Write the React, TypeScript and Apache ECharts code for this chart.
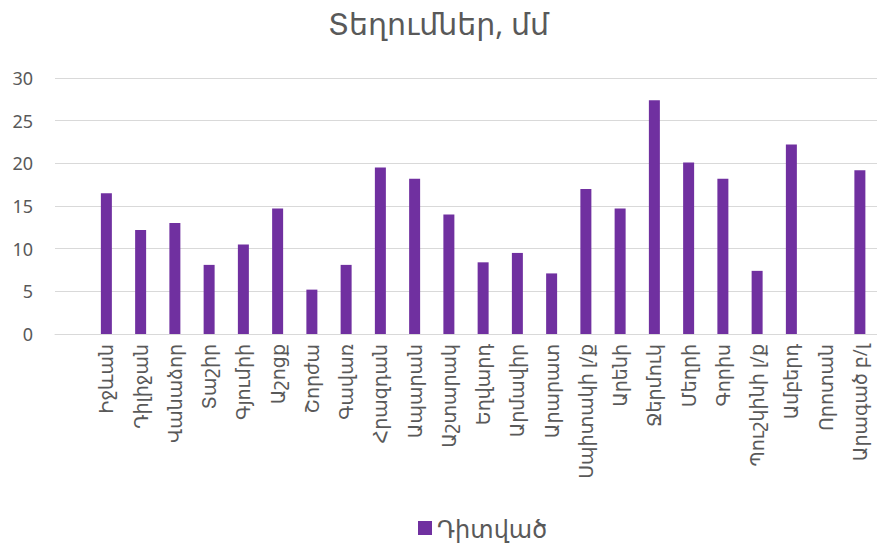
import React, { useEffect, useRef } from "react";
import * as echarts from "echarts";

const title = "Տեղումներ, մմ";
const seriesName = "Դիտված";
const categories = [
  "",
  "Իջևան",
  "Դիլիջան",
  "Վանաձոր",
  "Տաշիր",
  "Գյումրի",
  "Աշոցք",
  "Շորժա",
  "Գավառ",
  "Հրազդան",
  "Ապարան",
  "Աշտարակ",
  "Եղվարդ",
  "Արմավիր",
  "Արարատ",
  "Սպիտակի լ/ք",
  "Արենի",
  "Ջերմուկ",
  "Մեղրի",
  "Գորիս",
  "Պուշկինի լ/ք",
  "Ամբերդ",
  "Որոտան",
  "Արագած բ/լ",
];
const observed = [
  null, 16.5, 12.2, 13.0, 8.1, 10.5, 14.7, 5.2, 8.1, 19.5, 18.2, 14.0, 8.4, 9.5, 7.1,
  17.0, 14.7, 27.4, 20.1, 18.2, 7.4, 22.2, null, 19.2,
];
const yTicks = { min: 0, max: 30, interval: 5 };

const FONT = "'Noto Sans', 'DejaVu Sans', sans-serif";

export default function App() {
  const ref = useRef<HTMLDivElement>(null);
  useEffect(() => {
    document.body.style.margin = "0";
    const chart = echarts.init(ref.current!, null, { renderer: "svg" });
    chart.setOption({
      animation: false,
      backgroundColor: "#ffffff",
      title: {
        text: title,
        left: "center",
        top: 3,
        textStyle: { fontFamily: FONT, fontSize: 30, fontWeight: "normal", color: "#595959" },
      },
      legend: {
        top: 511,
        left: 413,
        itemWidth: 14,
        itemHeight: 14,
        itemGap: 8,
        icon: "rect",
        textStyle: { fontFamily: FONT, fontSize: 24, color: "#595959" },
        data: [seriesName],
      },
      grid: { left: 55, right: 0, top: 78, bottom: 210, containLabel: false },
      xAxis: {
        type: "category",
        data: categories,
        axisLine: { show: true, lineStyle: { color: "#d9d9d9" } },
        axisTick: { show: false },
        axisLabel: {
          interval: 0,
          rotate: 90,
          margin: 10,
          fontFamily: FONT,
          fontSize: 19,
          color: "#595959",
        },
      },
      yAxis: {
        type: "value",
        min: yTicks.min,
        max: yTicks.max,
        interval: yTicks.interval,
        axisLine: { show: false },
        axisTick: { show: false },
        splitLine: { lineStyle: { color: "#d9d9d9" } },
        axisLabel: { fontFamily: FONT, fontSize: 18, color: "#595959", margin: 22 },
      },
      series: [
        {
          name: seriesName,
          type: "bar",
          data: observed,
          barWidth: 11,
          itemStyle: { color: "#7030A0" },
        },
      ],
    });
    return () => chart.dispose();
  }, []);
  return <div ref={ref} style={{ width: 877, height: 544 }} />;
}
